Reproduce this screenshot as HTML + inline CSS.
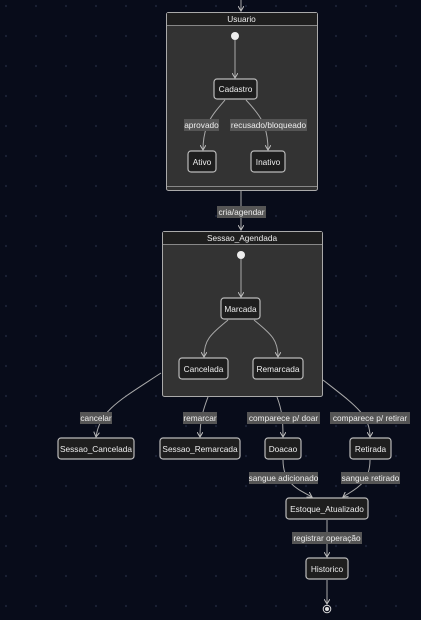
<!DOCTYPE html>
<html><head><meta charset="utf-8"><style>
html,body{margin:0;padding:0;background:#080c1a;}
svg{display:block}
text{font-family:"Liberation Sans",sans-serif;font-size:8.3px;fill:#eee;}
.n{fill:#1e1e1e;stroke:#bbb;stroke-width:1.2}
.c{fill:#333;stroke:#aaa;stroke-width:1}
.h{fill:#1f1f1f}
.e{stroke:#aaa;stroke-width:1;fill:none}
.l{fill:#555}
</style></head><body>
<svg width="421" height="620" viewBox="0 0 421 620" xmlns="http://www.w3.org/2000/svg">
<defs>
<pattern id="dots" width="30" height="30" patternUnits="userSpaceOnUse" x="4" y="4">
<circle cx="2" cy="2" r="1.1" fill="#1c2236"/></pattern>
<marker id="a" markerWidth="6" markerHeight="6" refX="5" refY="3" orient="auto"><path d="M0,0 L5,3 L0,6" fill="none" stroke="#bbb" stroke-width="1"/></marker>
</defs>
<rect width="421" height="620" fill="url(#dots)"/>
<line class="e" x1="241" y1="0" x2="241" y2="11" marker-end="url(#a)"/>
<rect class="c" x="166.5" y="12.5" width="151" height="178" rx="2"/>
<rect class="h" x="167" y="13" width="150" height="12"/>
<line x1="167" y1="25.5" x2="317" y2="25.5" stroke="#888"/>
<line x1="167" y1="186.5" x2="317" y2="186.5" stroke="#888"/>
<text x="241.5" y="22" text-anchor="middle">Usuario</text>
<circle cx="235" cy="36" r="4" fill="#eee"/>
<line class="e" x1="235" y1="40" x2="235" y2="78" marker-end="url(#a)"/>
<rect class="n" x="214" y="79" width="43" height="20" rx="3"/>
<text x="235.5" y="92" text-anchor="middle">Cadastro</text>
<path class="e" d="M225,100 C212,115 203,125 203,150" marker-end="url(#a)"/>
<path class="e" d="M246,100 C260,115 268,125 268,150" marker-end="url(#a)"/>
<rect class="l" x="184" y="119" width="35" height="12"/>
<text x="201.5" y="128" text-anchor="middle">aprovado</text>
<rect class="l" x="230" y="119" width="77" height="12"/>
<text x="268.5" y="128" text-anchor="middle">recusado/bloqueado</text>
<rect class="n" x="188" y="151" width="28" height="21" rx="3"/>
<text x="202" y="165" text-anchor="middle">Ativo</text>
<rect class="n" x="251" y="151" width="34" height="21" rx="3"/>
<text x="268" y="165" text-anchor="middle">Inativo</text>
<line class="e" x1="241" y1="191" x2="241" y2="230" marker-end="url(#a)"/>
<rect class="l" x="217" y="206" width="49" height="12"/>
<text x="241.5" y="215" text-anchor="middle">cria/agendar</text>
<rect class="c" x="162.5" y="231.5" width="160" height="165" rx="2"/>
<rect class="h" x="163" y="232" width="159" height="12"/>
<line x1="163" y1="244.5" x2="322" y2="244.5" stroke="#888"/>
<text x="242" y="241" text-anchor="middle">Sessao_Agendada</text>
<circle cx="241" cy="255" r="4" fill="#eee"/>
<line class="e" x1="241" y1="259" x2="241" y2="297" marker-end="url(#a)"/>
<rect class="n" x="221" y="298" width="39" height="21" rx="3"/>
<text x="240.5" y="312" text-anchor="middle">Marcada</text>
<path class="e" d="M228,320 C210,335 204,340 204,357" marker-end="url(#a)"/>
<path class="e" d="M254,320 C272,335 278,340 278,357" marker-end="url(#a)"/>
<rect class="n" x="179" y="358" width="49" height="21" rx="3"/>
<text x="203.5" y="372" text-anchor="middle">Cancelada</text>
<rect class="n" x="253" y="358" width="50" height="21" rx="3"/>
<text x="278" y="372" text-anchor="middle">Remarcada</text>
<path class="e" d="M161,373 C120,400 100,410 96,437" marker-end="url(#a)"/>
<rect class="l" x="80" y="412" width="32" height="12"/>
<text x="96" y="421" text-anchor="middle">cancelar</text>
<path class="e" d="M208,397 C203,410 200,420 200,437" marker-end="url(#a)"/>
<rect class="l" x="183" y="412" width="34" height="12"/>
<text x="200" y="421" text-anchor="middle">remarcar</text>
<path class="e" d="M277,397 C282,410 283,420 283,437" marker-end="url(#a)"/>
<rect class="l" x="247" y="412" width="73" height="12"/>
<text x="283.5" y="421" text-anchor="middle">comparece p/ doar</text>
<path class="e" d="M323,380 C355,405 370,415 370,437" marker-end="url(#a)"/>
<rect class="l" x="330" y="412" width="80" height="12"/>
<text x="370" y="421" text-anchor="middle">comparece p/ retirar</text>
<rect class="n" x="58" y="438" width="76" height="21" rx="3"/>
<text x="96" y="452" text-anchor="middle">Sessao_Cancelada</text>
<rect class="n" x="160" y="438" width="80" height="21" rx="3"/>
<text x="200" y="452" text-anchor="middle">Sessao_Remarcada</text>
<rect class="n" x="265" y="438" width="36" height="21" rx="3"/>
<text x="283" y="452" text-anchor="middle">Doacao</text>
<rect class="n" x="350" y="438" width="41" height="21" rx="3"/>
<text x="370.5" y="452" text-anchor="middle">Retirada</text>
<path class="e" d="M283,460 C283,485 300,490 312,497" marker-end="url(#a)"/>
<rect class="l" x="249" y="472" width="69" height="12"/>
<text x="283.5" y="481" text-anchor="middle">sangue adicionado</text>
<path class="e" d="M370,460 C370,485 353,490 343,497" marker-end="url(#a)"/>
<rect class="l" x="341" y="472" width="59" height="12"/>
<text x="370.5" y="481" text-anchor="middle">sangue retirado</text>
<rect class="n" x="286" y="498" width="82" height="21" rx="3"/>
<text x="327" y="512" text-anchor="middle">Estoque_Atualizado</text>
<line class="e" x1="327" y1="520" x2="327" y2="557" marker-end="url(#a)"/>
<rect class="l" x="292" y="532" width="70" height="12"/>
<text x="327" y="541" text-anchor="middle">registrar operação</text>
<rect class="n" x="306" y="558" width="42" height="21" rx="3"/>
<text x="327" y="572" text-anchor="middle">Historico</text>
<line class="e" x1="327" y1="580" x2="327" y2="604" marker-end="url(#a)"/>
<circle cx="327" cy="609" r="3.8" fill="none" stroke="#ddd" stroke-width="1"/>
<circle cx="327" cy="609" r="2" fill="#ddd"/>
</svg>
</body></html>
